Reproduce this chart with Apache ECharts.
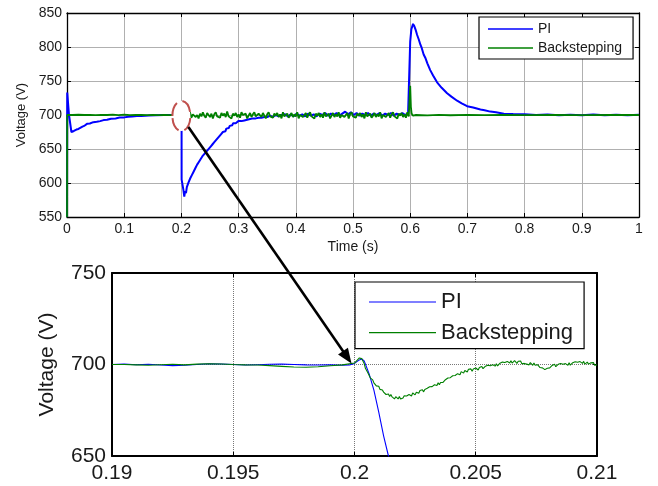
<!DOCTYPE html>
<html>
<head>
<meta charset="utf-8">
<script src="https://cdn.jsdelivr.net/npm/echarts@6/dist/echarts.min.js"></script>
<style>
html,body{margin:0;padding:0;background:#fff;}
#main{width:658px;height:486px;}
</style>
</head>
<body>
<div id="main"></div>
<script>
// ---------- data ----------
const seriesNames = ['PI', 'Backstepping'];

// top panel: full simulation 0..1 s
const piTop = [
[0,550],[0.0004,733],[0.0035,700],[0.0077,675],[0.012,676.5],[0.0165,678.6],[0.02,679.5],[0.023,681],[0.027,683],[0.031,684.5],[0.035,687],[0.04,687.5],[0.046,689.5],[0.052,690],[0.058,691],[0.064,692.5],[0.07,693],[0.077,694.5],[0.085,695],[0.092,696.2],[0.1,696.5],[0.107,697.5],[0.114,697.8],[0.122,698.5],[0.13,698.6],[0.143,699.2],[0.155,699.6],[0.17,700],[0.185,700],[0.2003,700],
[0.2004,605],[0.202,603],[0.2035,590],[0.205,580],[0.2065,588],[0.208,585],[0.2095,594],[0.211,592],[0.2125,601],[0.214,599],[0.2155,607],[0.217,605],[0.2185,612],[0.22,611],[0.2215,617],[0.223,615],[0.2245,622],[0.226,620],[0.2275,627],[0.229,625],[0.2305,631],[0.232,629],[0.2335,635],[0.235,633],[0.2365,639],[0.238,637],[0.2395,642],[0.241,640],[0.2425,645],[0.244,643],[0.2455,648],[0.247,646],[0.2485,651],[0.25,649],[0.2515,654],[0.253,652],[0.2545,657],[0.256,655],[0.2575,660],[0.259,658],[0.2605,663],[0.262,661],[0.2635,666],[0.265,664],[0.2665,669],[0.268,667],[0.2695,672],[0.271,670],[0.2725,675],[0.274,673],[0.2755,677],[0.277,676],[0.2785,680],[0.28,678],[0.2815,682],[0.283,681],[0.2845,684],[0.286,683],[0.2875,686],[0.289,685],[0.2905,688],[0.292,686],[0.2935,689],[0.295,688],[0.2965,690],[0.298,689],[0.2995,691],[0.301,690],[0.3025,692],[0.305,691],[0.3075,693],[0.31,692],[0.3125,694],[0.315,693],[0.3175,695],[0.32,694],[0.3225,696],[0.325,695],[0.3275,697],[0.33,695],[0.3325,697],[0.335,696],[0.3375,698],[0.34,696],[0.3425,698],[0.345,697],[0.3475,699],[0.35,697],[0.355,699],[0.36,697],[0.365,700],[0.37,698],[0.375,700],[0.3775,698],
[0.3813,701],[0.3863,698],[0.3913,701],[0.3963,698],[0.4013,702],[0.4063,699],[0.4113,701],[0.4163,698],[0.4213,702],[0.4263,699],[0.4313,701],[0.4363,698],[0.4413,702],[0.4463,700],[0.4513,703],[0.4563,699],[0.4613,702],[0.4663,700],[0.4713,703],[0.4763,699],[0.4813,702],[0.4863,705],[0.4913,701],[0.4963,704],[0.5013,700],[0.5063,703],[0.5113,699],[0.5163,702],[0.5213,700],[0.5263,703],[0.5313,699],[0.5363,702],[0.5413,700],[0.5463,703],[0.5513,699],[0.5563,702],[0.5613,700],[0.5663,703],[0.5713,699],[0.5763,702],[0.5813,700],[0.5863,703],[0.5913,700],[0.5963,702],[0.5995,700],
[0.6,808],[0.602,826],[0.605,834],[0.607,831],[0.61,824],[0.612,818],[0.615,811],[0.618,803],[0.62,799],[0.6235,789],[0.627,783],[0.63,776],[0.635,766],[0.64,758],[0.647,748],[0.655,740],[0.6645,732],[0.672,727],[0.682,721],[0.69,717],[0.6995,713],[0.71,711],[0.7228,708],[0.73,707],[0.74,705],[0.75,704],[0.7637,702],[0.78,701.5],[0.8,701],[0.82,700],[0.84,700.8],[0.86,699.5],[0.88,700.5],[0.9,699.8],[0.92,700.6],[0.94,699.6],[0.96,700.4],[0.98,699.8],[1,700.2]
];

const bsTop = [
[0,550],[0.0003,700],[0.01,700],[0.02,700.4],[0.03,700],[0.04,700.3],[0.05,699.8],[0.06,700.2],[0.07,700],[0.08,700.5],[0.09,699.8],[0.1,700.6],[0.11,699.9],[0.12,700.3],[0.13,700],[0.14,699.7],[0.15,700.2],[0.16,699.8],[0.17,700.3],[0.18,699.9],[0.19,700.2],[0.2,700],[0.2002,703],[0.2017,682],[0.204,693],[0.2055,699],
[0.2075,697],[0.21,702],[0.2125,699],[0.215,704],[0.2175,696],[0.22,701],[0.2225,703],[0.225,697],
[0.2275,700],[0.23,695],[0.2325,702],[0.235,698],[0.2375,704],[0.24,699],[0.2425,696],[0.245,703],
[0.2475,700],[0.25,697],[0.2525,702],[0.255,695],[0.2575,701],[0.26,704],[0.2625,698],[0.265,700],
[0.2675,696],[0.27,703],[0.2725,699],[0.275,702],[0.2775,697],[0.28,705],[0.2825,698],[0.285,700],
[0.2875,695],[0.29,702],[0.2925,699],[0.295,703],[0.2975,697],[0.3,701],[0.3025,696],[0.305,704],
[0.3075,700],[0.31,698],[0.3125,702],[0.315,695],[0.3175,699],[0.32,703],[0.3225,697],[0.325,701],
[0.3275,704],[0.33,698],[0.3325,696],[0.335,702],[0.3375,700],[0.34,697],[0.3425,703],[0.345,699],
[0.3475,695],[0.35,701],[0.3525,704],[0.355,698],[0.3575,700],[0.36,696],[0.3625,702],[0.365,699],
[0.3675,703],[0.37,697],[0.3725,701],[0.375,695],[0.3775,704],[0.38,698],[0.3825,700],[0.385,702],
[0.3875,696],[0.39,699],[0.3925,703],[0.395,697],[0.3975,701],[0.4,698],[0.4025,704],[0.405,695],
[0.4075,700],[0.41,702],[0.4125,697],[0.415,699],[0.4175,703],[0.42,696],[0.4225,701],[0.425,704],
[0.4275,698],[0.43,700],[0.4325,695],[0.435,702],[0.4375,699],[0.44,703],[0.4425,697],[0.445,701],
[0.4475,696],[0.45,704],[0.4525,698],[0.455,700],[0.4575,702],[0.46,695],[0.4625,699],[0.465,703],
[0.4675,697],[0.47,701],[0.4725,698],[0.475,704],[0.4775,696],[0.48,700],[0.4825,702],[0.485,697],
[0.4875,699],[0.49,703],[0.4925,695],[0.495,701],[0.4975,704],[0.5,698],[0.5025,700],[0.505,696],
[0.5075,702],[0.51,699],[0.5125,703],[0.515,697],[0.5175,701],[0.52,695],[0.5225,704],[0.525,698],
[0.5275,700],[0.53,702],[0.5325,696],[0.535,699],[0.5375,703],[0.54,697],[0.5425,701],[0.545,698],
[0.5475,704],[0.55,695],[0.5525,700],[0.555,702],[0.5575,697],[0.56,699],[0.5625,703],[0.565,696],
[0.5675,701],[0.57,704],[0.5725,698],[0.575,700],[0.5775,695],[0.58,702],[0.5825,699],[0.585,703],
[0.5875,697],[0.59,701],[0.5925,696],[0.595,704],[0.5975,698],[0.5995,700],
[0.6,743],[0.6012,712],[0.6025,702],[0.605,699],[0.61,700],[0.63,699.5],[0.65,700.2],[0.67,699.6],[0.7,700.3],[0.73,699.7],[0.76,700.2],[0.8,699.8],[0.85,700.2],[0.9,699.7],[0.95,700.2],[1,700]
];

// bottom panel: zoom around the 0.2 s load step
const piZoom = [
[0.19,700],[0.1905,700.2],[0.191,699.9],[0.1915,700.1],[0.192,699.7],[0.1925,699.4],[0.193,699.6],[0.1935,700],[0.194,700.4],[0.1945,700.3],[0.195,700],[0.1955,699.7],[0.196,699.9],[0.1965,700.1],[0.197,700.2],[0.1975,700],[0.198,699.8],[0.1985,699.7],[0.199,699.8],[0.1995,699.6],[0.1998,699.8],[0.2,700.6],[0.2002,702.5],[0.2003,703],[0.2004,702],[0.2006,695],[0.2008,686],[0.2009,680],[0.201,674],[0.2012,661],[0.2014,650],[0.2016,638]
];

const bsZoom = [
[0.19,700],[0.1905,700],[0.191,699.8],[0.1915,699.6],[0.192,699.9],[0.1925,700.1],[0.193,699.8],[0.1935,700.2],[0.194,700.4],[0.1945,700.3],[0.195,700],[0.1955,699.8],[0.196,699.7],[0.1965,699.4],[0.197,699],[0.1975,698.6],[0.198,698.5],[0.1985,698.8],[0.199,699.3],[0.1995,699.8],[0.2,700.8],[0.2002,703.6],[0.2003,703.2],
[0.2004,700.5],[0.20045,697.9],[0.2005,697.8],[0.20055,695.5],[0.2006,694.8],[0.20065,692.7],[0.2007,693.1],[0.20075,691.6],[0.2008,690.0],[0.20085,690.4],[0.2009,688.3],[0.20095,688.4],
[0.201,688.1],[0.20105,686.4],[0.2011,685.4],[0.20115,686.1],[0.2012,684.9],[0.20125,685.4],[0.2013,683.6],[0.20135,684.1],[0.2014,683.9],[0.20145,682.5],[0.2015,683.6],[0.20155,682.3],[0.2016,682.5],[0.20165,681.2],[0.2017,682.4],[0.20175,681.9],[0.2018,681.2],[0.20185,682.5],[0.2019,681.1],[0.20195,682.1],
[0.202,681.7],[0.20205,682.9],[0.2021,681.9],[0.20215,682.8],[0.2022,682.0],[0.20225,683.6],[0.2023,683.6],[0.20235,682.8],[0.2024,684.4],[0.20245,683.65],[0.2025,683.4],[0.20255,684.85],[0.2026,684.7],[0.20265,684.25],[0.2027,685.8],[0.20275,685.05],[0.2028,686.2],[0.20285,685.05],[0.2029,686.4],[0.20295,686.2],
[0.203,687.0],[0.20305,686.15],[0.2031,687.8],[0.20315,687.1],[0.2032,687.9],[0.20325,687.15],[0.2033,688.9],[0.20335,688.75],[0.2034,688.5],[0.20345,690.0],[0.2035,688.9],[0.20355,690.15],[0.2036,690.9],[0.20365,690.2],[0.2037,690.1],[0.20375,691.7],[0.2038,691.4],[0.20385,692.65],[0.2039,691.6],[0.20395,692.8],
[0.204,692.5],[0.20405,693.85],[0.2041,693.0],[0.20415,694.0],[0.2042,693.3],[0.20425,695.0],[0.2043,695.1],[0.20435,694.4],[0.2044,696.1],[0.20445,695.45],[0.2045,695.3],[0.20455,696.7],[0.2046,696.5],[0.20465,695.95],[0.2047,697.4],[0.20475,696.55],[0.2048,697.6],[0.20485,696.35],[0.2049,697.6],[0.20495,697.3],
[0.205,698.1],[0.20505,697.25],[0.2051,697.0],[0.20515,698.4],[0.2052,697.9],[0.20525,698.95],[0.2053,697.7],[0.20535,698.75],[0.2054,699.1],[0.20545,698.1],[0.2055,699.6],[0.20555,698.7],[0.2056,699.3],[0.20565,698.35],[0.2057,699.9],[0.20575,699.55],[0.2058,699.1],[0.20585,700.45],[0.2059,699.2],[0.20595,700.25],
[0.206,700.7],[0.20605,699.75],[0.2061,701.3],[0.20615,700.45],[0.2062,701.1],[0.20625,700.15],[0.2063,701.7],[0.20635,701.3],[0.2064,700.8],[0.20645,702.1],[0.2065,700.8],[0.20655,701.7],[0.2066,702.1],[0.20665,701.05],[0.2067,700.6],[0.20675,701.8],[0.2068,701.1],[0.20685,701.9],[0.2069,700.4],[0.20695,701.25],
[0.207,700.6],[0.20705,701.5],[0.2071,700.2],[0.20715,700.85],[0.2072,699.8],[0.20725,701.05],[0.2073,700.7],[0.20735,699.55],[0.2074,700.8],[0.20745,699.6],[0.2075,698.9],[0.20755,699.9],[0.2076,699.3],[0.20765,698.35],[0.2077,699.4],[0.20775,698.15],[0.2078,698.8],[0.20785,697.2],[0.2079,698.1],[0.20795,697.95],
[0.208,698.9],[0.20805,698.15],[0.2081,698.0],[0.20815,699.5],[0.2082,699.1],[0.20825,700.1],[0.2083,698.8],[0.20835,699.8],[0.2084,700.1],[0.20845,699.05],[0.2085,700.5],[0.20855,699.55],[0.2086,700.1],[0.20865,699.05],[0.2087,700.5],[0.20875,700.1],[0.2088,699.6],[0.20885,700.9],[0.2089,699.6],[0.20895,700.6],
[0.209,701.0],[0.20905,700.0],[0.2091,701.5],[0.20915,700.6],[0.2092,701.2],[0.20925,700.15],[0.2093,701.6],[0.20935,701.15],[0.2094,700.6],[0.20945,701.7],[0.2095,700.2],[0.20955,701.0],[0.2096,701.3],[0.20965,700.2],[0.2097,699.7],[0.20975,700.9],[0.2098,700.2],[0.20985,701.05],[0.2099,699.6],[0.20995,700.4],[0.21,699.8]
];

const topX = {min:0, max:1, step:0.1};
const topY = {min:550, max:850, step:50};
const zoomX = {min:0.19, max:0.21, step:0.005};
const zoomY = {min:650, max:750, step:50};
const markPoint = [0.2, 700]; // circled point, zoomed below

// ---------- chart ----------
const FONT = '"Liberation Sans", Arial, Helvetica, sans-serif';
const TXT = '#1a1a1a';
const fmt = v => String(parseFloat(Number(v).toFixed(4)));

function mainX(g, r, size, gap, name, splitType, splitColor, lw) {
  return {
    gridIndex: g, type: 'value', min: r.min, max: r.max, interval: r.step,
    axisLine: {show: true, onZero: false, lineStyle: {color: '#000', width: lw}},
    axisTick: {show: true, inside: true, length: 4, lineStyle: {color: '#000'}},
    axisLabel: {fontSize: size, color: TXT, fontFamily: FONT, margin: gap, formatter: fmt},
    splitLine: {show: true, lineStyle: {color: splitColor, width: 1, type: splitType}},
    name: name, nameLocation: 'middle',
    nameTextStyle: {fontSize: size, color: TXT, fontFamily: FONT}
  };
}
function mirror(g, r, pos, lw) {
  return {
    gridIndex: g, type: 'value', min: r.min, max: r.max, interval: r.step, position: pos,
    axisLine: {show: true, onZero: false, lineStyle: {color: '#000', width: lw}},
    axisTick: {show: true, inside: true, length: 4, lineStyle: {color: '#000'}},
    axisLabel: {show: false}, splitLine: {show: false}
  };
}

const x0 = mainX(0, topX, 14, 5, 'Time (s)', 'solid', '#b0b0b0', 1.3); x0.nameGap = 23;
const y0 = mainX(0, topY, 14, 5, 'Voltage (V)', 'solid', '#b0b0b0', 1.3); y0.nameGap = 39;
y0.nameTextStyle.fontSize = 13;
const x2 = mainX(1, zoomX, 21, 7, '', 'dotted', '#777', 2);
const y2 = mainX(1, zoomY, 21, 6, 'Voltage (V)', 'dotted', '#777', 2); y2.nameGap = 54;

const lineSeries = (name, data, xi, yi, color, w) => ({
  name: name, type: 'line', data: data, xAxisIndex: xi, yAxisIndex: yi,
  showSymbol: false, symbol: 'none', animation: false, clip: true,
  lineStyle: {color: color, width: w}, itemStyle: {color: color}
});

const legendBase = (left, top, size, iw, ih, gap, pad) => ({
  orient: 'vertical', left: left, top: top, data: seriesNames, selectedMode: false,
  icon: 'rect', itemWidth: iw, itemHeight: ih, itemGap: gap, padding: pad,
  backgroundColor: '#fff', borderColor: '#000', borderWidth: 1.2, borderRadius: 0,
  textStyle: {fontSize: size, color: TXT, fontFamily: FONT, lineHeight: size}
});

const chart = echarts.init(document.getElementById('main'), null, {renderer: 'canvas'});
chart.setOption({
  backgroundColor: '#fff',
  animation: false,
  textStyle: {fontFamily: FONT},
  grid: [
    {left: 67, right: 19, top: 13, height: 204, containLabel: false},
    {left: 112, right: 61, top: 273, height: 183, containLabel: false}
  ],
  xAxis: [x0, mirror(0, topX, 'top', 1.3), x2, mirror(1, zoomX, 'top', 2)],
  yAxis: [y0, mirror(0, topY, 'right', 1.3), y2, mirror(1, zoomY, 'right', 2)],
  legend: [
    legendBase(479, 17, 14, 45, 1.6, 5, [5, 11, 4, 9]),
    legendBase(355, 282, 22, 67, 1.2, 8.6, [9, 11, 5, 14])
  ],
  series: [
    lineSeries('PI', piTop, 0, 0, '#0000ff', 2),
    lineSeries('Backstepping', bsTop, 0, 0, '#008000', 1.8),
    lineSeries('PI', piZoom, 2, 2, '#0000ff', 1.1),
    lineSeries('Backstepping', bsZoom, 2, 2, '#008000', 1.1)
  ]
});

// annotation: dashed circle on the top panel and arrow to the zoomed panel
const pTop = chart.convertToPixel({xAxisIndex: 0, yAxisIndex: 0}, markPoint);
const pBot = chart.convertToPixel({xAxisIndex: 2, yAxisIndex: 2}, markPoint);
const start = [pTop[0] + 7, pTop[1] + 12];
const tip = [pBot[0] - 3, pBot[1] - 1];
const dx = tip[0] - start[0], dy = tip[1] - start[1];
const len = Math.sqrt(dx * dx + dy * dy);
const ux = dx / len, uy = dy / len;
const headL = 15, headW = 6;
const base = [tip[0] - ux * headL, tip[1] - uy * headL];
chart.setOption({
  graphic: [
    {type: 'ellipse', z: 100, shape: {cx: pTop[0], cy: pTop[1] + 1, rx: 9, ry: 15},
     style: {fill: '#fff', stroke: '#c0504d', lineWidth: 2, lineDash: [14, 6]}},
    {type: 'line', z: 101, shape: {x1: start[0], y1: start[1], x2: base[0] + ux * 2, y2: base[1] + uy * 2},
     style: {stroke: '#000', lineWidth: 2.6}},
    {type: 'polygon', z: 101,
     shape: {points: [tip, [base[0] - uy * headW, base[1] + ux * headW], [base[0] + uy * headW, base[1] - ux * headW]]},
     style: {fill: '#000'}}
  ]
});
</script>
</body>
</html>
